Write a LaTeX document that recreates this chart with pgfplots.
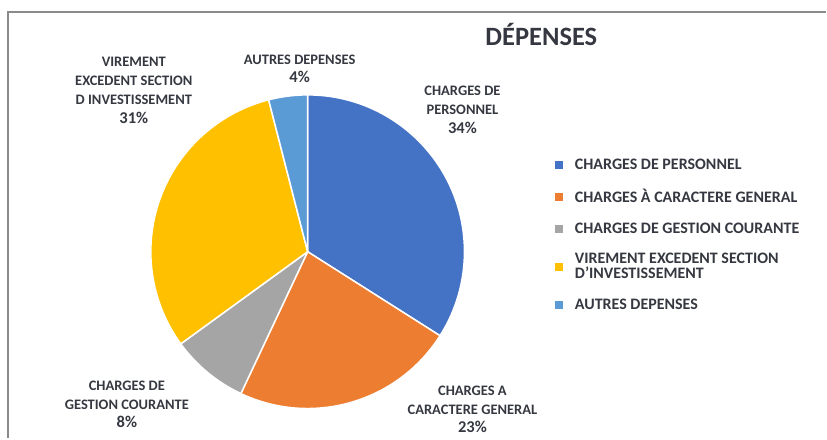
\documentclass[border=0pt]{standalone}
\usepackage{pgfplots}
\pgfplotsset{compat=1.18}
\usepackage{pgfplotstable}
\usepackage{fontspec}
\setmainfont{Carlito}

\definecolor{cPers}{HTML}{4472C4}
\definecolor{cCar}{HTML}{ED7D31}
\definecolor{cGest}{HTML}{A5A5A5}
\definecolor{cVir}{HTML}{FFC000}
\definecolor{cAut}{HTML}{5B9BD5}
\definecolor{txt}{HTML}{353840}
\definecolor{frame}{HTML}{8A8A8A}

% depenses, en % du total
\pgfplotstableread{
pct color
34 cPers
23 cCar
8  cGest
31 cVir
4  cAut
}\depenses

\newcommand\labfont{\bfseries\fontsize{14.5}{18.8}\selectfont}
\newcommand\pc[1]{{\fontsize{16.5}{18.8}\selectfont #1\%}}

\begin{document}
\begin{tikzpicture}
\begin{axis}[
  scale only axis,
  width=827pt, height=439pt,
  xmin=0, xmax=827, ymin=0, ymax=439,
  hide axis, clip=false,
  legend cell align=left,
  legend image code/.code={\fill[#1] (0pt,-3.5pt) rectangle (7pt,3.5pt);},
  legend style={at={(axis cs:555,280)}, anchor=north west, draw=none, fill=none,
    font=\bfseries\fontsize{16}{15}\selectfont, row sep=18.5pt,
    inner sep=0pt,
    nodes={text=txt, align=left, inner xsep=13pt, inner ysep=0pt}},
]
\path (axis cs:0,0) rectangle (axis cs:827,439);
\draw[frame, line width=2pt] (axis cs:827,426.5) -- (axis cs:8.5,426.5) -- (axis cs:8.5,0);

\def\startang{90}
\pgfplotsforeachungrouped \i in {0,...,4}{
  \pgfplotstablegetelem{\i}{pct}\of\depenses \let\p\pgfplotsretval
  \pgfplotstablegetelem{\i}{color}\of\depenses \let\c\pgfplotsretval
  \pgfmathsetmacro\endang{\startang-3.6*\p}
  \edef\temp{\noexpand\fill[\c, draw=white, line width=1.5pt, line join=round]
    (axis cs:308,187) -- ++(\startang:157pt)
    arc[start angle=\startang, end angle=\endang, radius=157pt] -- cycle;}
  \temp
  \global\let\startang\endang
}

\addlegendimage{cPers}\addlegendentry{CHARGES DE PERSONNEL}
\addlegendimage{cCar}\addlegendentry{CHARGES À CARACTERE GENERAL}
\addlegendimage{cGest}\addlegendentry{CHARGES DE GESTION COURANTE}
\addlegendimage{cVir}\addlegendentry{VIREMENT EXCEDENT SECTION\\D'INVESTISSEMENT}
\addlegendimage{cAut}\addlegendentry{AUTRES DEPENSES}

\node[text=txt, font=\bfseries\fontsize{26.5}{30}\selectfont] at (axis cs:542,404) {DÉPENSES};

\node[align=center, text=txt, font=\labfont] at (axis cs:134,348.5)
  {VIREMENT\\EXCEDENT SECTION\\D INVESTISSEMENT\\\pc{31}};
\node[align=center, text=txt, font=\labfont] at (axis cs:300,370)
  {AUTRES DEPENSES\\\pc{4}};
\node[align=center, text=txt, font=\labfont] at (axis cs:463,329)
  {CHARGES DE\\PERSONNEL\\\pc{34}};
\node[align=center, text=txt, font=\labfont] at (axis cs:127,34)
  {CHARGES DE\\GESTION COURANTE\\\pc{8}};
\node[align=center, text=txt, font=\labfont] at (axis cs:473,29)
  {CHARGES A\\CARACTERE GENERAL\\\pc{23}};
\end{axis}
\end{tikzpicture}
\end{document}
